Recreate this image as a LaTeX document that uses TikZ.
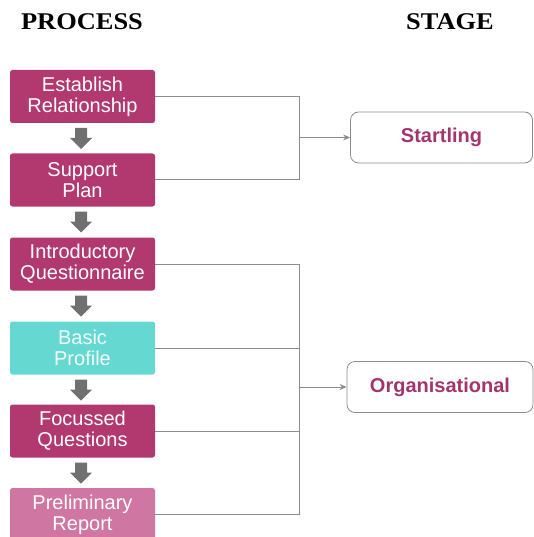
\documentclass[tikz,border=0pt]{standalone}
\usepackage{fontspec}
\setsansfont{Liberation Sans}
\newfontfamily\titlefont{Liberation Serif}[FakeStretch=1.1]
\usetikzlibrary{arrows.meta}
\definecolor{mag}{RGB}{178,56,112}
\definecolor{teal2}{RGB}{102,216,210}
\definecolor{pinkl}{RGB}{208,118,162}
\definecolor{stagetxt}{RGB}{162,52,110}
\definecolor{linegray}{RGB}{140,140,140}
\definecolor{arrgray}{RGB}{112,112,112}
\tikzset{
  procbox/.style={rounded corners=2.5pt, minimum width=145pt, minimum height=53pt,
    align=center, font=\sffamily\fontsize{20}{21}\selectfont, text=white, inner sep=0pt},
  stagebox/.style={draw=linegray, line width=0.8pt, rounded corners=8pt, minimum height=51pt,
    font=\sffamily\bfseries\fontsize{20}{22}\selectfont, text=stagetxt},
  conn/.style={draw=linegray, line width=1pt},
  blockarrow/.style={fill=arrgray},
  title/.style={font=\titlefont\bfseries\fontsize{24}{26}\selectfont, text=black}
}
\newcommand{\downblock}[1]{\fill[blockarrow] (#1) ++(-6,5) -- ++(12,0) -- ++(0,10) -- ++(5,0) -- ++(-11,11) -- ++(-11,-11) -- ++(5,0) -- cycle;}
\begin{document}
\begin{tikzpicture}[x=1pt,y=-1pt]
\useasboundingbox (0,0) rectangle (534,537);
\clip (0,0) rectangle (534,537);
\node[title] (tp) at (82,22) {PROCESS};
\node[title] (ts) at (450,22) {STAGE};

\node[procbox, fill=mag] (b1) at (82.5,96.5) {Establish\\Relationship};
\node[procbox, fill=mag] (b2) at (82.5,180) {Support\\Plan};
\node[procbox, fill=mag] (b3) at (82.5,264) {Introductory\\Questionnaire};
\node[procbox, fill=teal2, text=white!92!teal2] (b4) at (82.5,348) {Basic\\Profile};
\node[procbox, fill=mag] (b5) at (82.5,431) {Focussed\\Questions};
\node[procbox, fill=pinkl] (b6) at (82.5,514.5) {Preliminary\\Report};

\coordinate (a1) at (81,123);
\coordinate (a2) at (81,206.5);
\coordinate (a3) at (81,290.5);
\coordinate (a4) at (81,374.5);
\coordinate (a5) at (81,457.5);
\downblock{a1}
\downblock{a2}
\downblock{a3}
\downblock{a4}
\downblock{a5}

\node[stagebox, minimum width=182pt] (s1) at (441.5,137.5) {Startling};
\node[stagebox, minimum width=186pt] (s2) at (440,387) {Organisational};

\coordinate (j1) at (299,137.5);
\coordinate (j2) at (299,387);

\draw[conn] (b1.east) -- (b1.east -| j1) -- (b2.east -| j1) -- (b2.east);
\draw[conn, -{Stealth[length=7pt,width=6pt]}] (j1) -- (s1.west);

\draw[conn] (b3.east) -- (b3.east -| j2) -- (b6.east -| j2) -- (b6.east);
\draw[conn] (b4.east) -- (b4.east -| j2);
\draw[conn] (b5.east) -- (b5.east -| j2);
\draw[conn, -{Stealth[length=7pt,width=6pt]}] (j2) -- (s2.west);
\end{tikzpicture}
\end{document}
